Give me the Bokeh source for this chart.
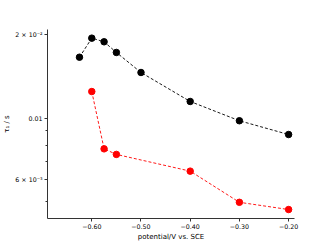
from bokeh.plotting import figure
from bokeh.models import FixedTicker, Range1d
from bokeh.embed import file_html
from bokeh.resources import INLINE

# data
pot_black = [-0.625, -0.60, -0.575, -0.55, -0.50, -0.40, -0.30, -0.20]
tau_black = [0.0166, 0.01945, 0.01887, 0.01727, 0.01462, 0.01149, 0.00979, 0.00873]
pot_red = [-0.60, -0.575, -0.55, -0.40, -0.30, -0.20]
tau_red = [0.01248, 0.00775, 0.0074, 0.00644, 0.00497, 0.00468]

x_ticks = [-0.6, -0.5, -0.4, -0.3, -0.2]
x_labels = ["−0.60", "−0.50", "−0.40", "−0.30", "−0.20"]
y_ticks = [0.006, 0.01, 0.02]
y_minor = [0.005, 0.007, 0.008, 0.009]
y_labels = ["6 × 10⁻³", "0.01", "2 × 10⁻²"]

FONT = "DejaVu Sans"

p = figure(width=311, height=243, y_axis_type="log",
           x_range=Range1d(-0.69, -0.188), y_range=Range1d(0.004344, 0.0209),
           output_backend="svg", toolbar_location=None,
           min_border_left=37, min_border_top=29, min_border_right=17, min_border_bottom=0)
p.outline_line_color = None
p.xgrid.visible = False
p.ygrid.visible = False

p.line(pot_black, tau_black, line_color="black", line_width=0.9, line_dash="3 2")
p.scatter(pot_black, tau_black, size=6.5, fill_color="black", line_color="black")
p.line(pot_red, tau_red, line_color="red", line_width=0.9, line_dash="3 2")
p.scatter(pot_red, tau_red, size=6.5, fill_color="red", line_color="red")

xa = p.xaxis[0]
xa.ticker = FixedTicker(ticks=x_ticks, minor_ticks=[])
xa.major_label_overrides = dict(zip(x_ticks, x_labels))
xa.axis_label = "potential/V vs. SCE"

ya = p.yaxis[0]
ya.ticker = FixedTicker(ticks=y_ticks, minor_ticks=y_minor)
ya.major_label_overrides = dict(zip(y_ticks, y_labels))
ya.axis_label = "τ₁ / s"

for ax in (xa, ya):
    ax.axis_line_color = "#333333"
    ax.axis_line_width = 1
    ax.major_tick_line_color = "#333333"
    ax.minor_tick_line_color = "#333333"
    ax.major_tick_out = 3
    ax.major_tick_in = 0
    ax.minor_tick_out = 2
    ax.minor_tick_in = 0
    ax.major_label_text_font = FONT
    ax.major_label_text_font_size = "6.3px"
    ax.major_label_text_color = "black"
    ax.major_label_standoff = 2
    ax.axis_label_text_font = FONT
    ax.axis_label_text_font_size = "7px"
    ax.axis_label_text_font_style = "normal"
    ax.axis_label_text_color = "black"
    ax.axis_label_standoff = 1

open("out.html", "w").write(file_html(p, INLINE))
